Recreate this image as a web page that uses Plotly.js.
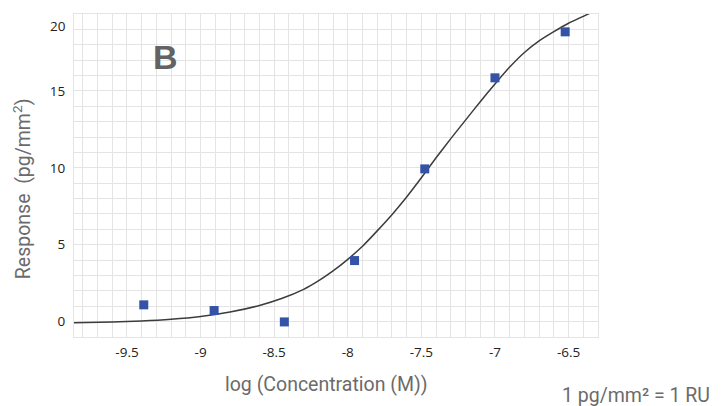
<!DOCTYPE html>
<html>
<head>
<meta charset="utf-8">
<script src="https://cdn.plot.ly/plotly-3.0.1.min.js"></script>
<style>html,body{margin:0;padding:0;background:#fff;}#chart{width:728px;height:406px;}</style>
</head>
<body>
<div id="chart"></div>
<script>
// Measured data points: log10 concentration (M) vs response (pg/mm^2)
const logConc = [-9.386, -8.908, -8.431, -7.954, -7.477, -7.0, -6.523];
const response = [1.09, 0.72, -0.02, 3.97, 9.93, 15.85, 18.84];

// Fitted curve
const fitX = [-9.86, -9.6, -9.4, -9.2, -9.0, -8.8, -8.6, -8.45, -8.3, -8.2, -8.1, -8.0, -7.9, -7.8, -7.7, -7.6, -7.5, -7.4, -7.3, -7.2, -7.1, -7.0, -6.9, -6.8, -6.7, -6.6, -6.5, -6.4, -6.3];
const fitY = [-0.08, -0.02, 0.04, 0.15, 0.33, 0.62, 1.05, 1.5, 2.1, 2.65, 3.3, 4.05, 4.9, 5.9, 6.95, 8.1, 9.35, 10.65, 11.9, 13.1, 14.3, 15.45, 16.55, 17.5, 18.25, 18.85, 19.4, 19.85, 20.3];

const xTickVals = [-9.5, -9, -8.5, -8, -7.5, -7, -6.5];
const xTickText = ["-9.5", "-9", "-8.5", "-8", "-7.5", "-7", "-6.5"];
const yTickVals = [0, 5, 10, 15];
const yTickText = ["0", "5", "10", "15"];
const yTopLabel = "20";

const xTitle = "log (Concentration (M))";
const yTitle = "Response\u00a0 (pg/mm<sup>2</sup>)";
const unitNote = "1 pg/mm\u00b2 = 1 RU";
const panelLabel = "B";

const gridCol = "#e4e4e4";
const titleFont = {family: "Roboto, 'Open Sans', sans-serif", size: 19.5, color: "#6b6b6b"};
const tickFont = {family: "'Open Sans', 'Noto Sans', sans-serif", size: 13.5, color: "#222"};

const traces = [
  {
    x: fitX, y: fitY, type: "scatter", mode: "lines",
    line: {color: "#3c3c3c", width: 1.5, shape: "spline", smoothing: 0.6},
    hoverinfo: "skip", showlegend: false
  },
  {
    x: logConc, y: response, type: "scatter", mode: "markers",
    marker: {symbol: "square", size: 9, color: "#3452a6"},
    showlegend: false
  }
];

const layout = {
  width: 728, height: 406,
  margin: {l: 74, r: 130, t: 14, b: 69},
  paper_bgcolor: "#fff", plot_bgcolor: "#fff",
  font: tickFont,
  xaxis: {
    range: [-9.86, -6.3],
    tickmode: "array", tickvals: xTickVals, ticktext: xTickText,
    ticks: "", ticklabelstandoff: 3,
    showgrid: true, gridcolor: gridCol, gridwidth: 1,
    minor: {tick0: 0, dtick: 0.1, showgrid: true, gridcolor: gridCol, gridwidth: 1},
    showline: true, linecolor: gridCol, linewidth: 1, mirror: true,
    zeroline: false,
    tickfont: tickFont
  },
  yaxis: {
    range: [-1, 20],
    tickmode: "array", tickvals: yTickVals, ticktext: yTickText,
    ticks: "", ticklabelstandoff: 5,
    showgrid: true, gridcolor: gridCol, gridwidth: 1,
    minor: {tick0: 0, dtick: 1, showgrid: true, gridcolor: gridCol, gridwidth: 1},
    showline: true, linecolor: gridCol, linewidth: 1, mirror: true,
    zeroline: false,
    tickfont: tickFont
  },
  annotations: [
    {text: "<b>" + panelLabel + "</b>", xref: "x", yref: "y", x: -9.24, y: 17.2, showarrow: false,
     font: {family: "'Liberation Sans', Arial, sans-serif", size: 34, color: "#636363"}},
    {text: yTopLabel, xref: "paper", yref: "y", x: 0, y: 19.2, xanchor: "right", xshift: -6,
     showarrow: false, font: tickFont},
    {text: xTitle, xref: "paper", yref: "paper", x: 0.482, y: -0.146, xanchor: "center", yanchor: "middle",
     showarrow: false, font: titleFont},
    {text: yTitle, xref: "paper", yref: "paper", x: -0.099, y: 0.458, xanchor: "center", yanchor: "middle",
     textangle: -90, showarrow: false, font: titleFont},
    {text: unitNote, xref: "paper", yref: "paper", x: 1.218, y: -0.18,
     xanchor: "right", yanchor: "middle", showarrow: false, font: titleFont}
  ]
};

Plotly.newPlot("chart", traces, layout, {displayModeBar: false, responsive: false});
</script>
</body>
</html>
